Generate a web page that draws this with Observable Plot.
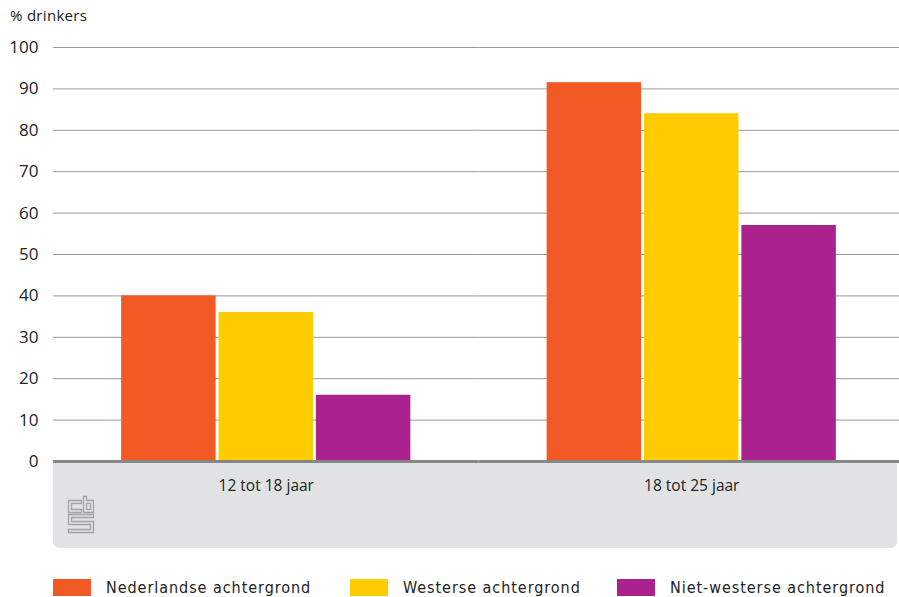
<!DOCTYPE html>
<html>
<head>
<meta charset="utf-8">
<script src="https://cdn.jsdelivr.net/npm/d3@7"></script>
<script src="https://cdn.jsdelivr.net/npm/@observablehq/plot@0.6"></script>
<style>
  body { margin: 0; background: #fff; overflow: hidden; }
  #wrap { position: relative; width: 899px; height: 597px; overflow: hidden; font-family: "Open Sans", sans-serif; color: #222; }
  #title { position: absolute; left: 10px; top: 5px; font-size: 15px; letter-spacing: 0.3px; }
  #chart { position: absolute; left: 0; top: 0; }
  #legend { position: absolute; left: 0; top: 578px; width: 899px; height: 19px; }
  .item { position: absolute; top: 0; display: flex; align-items: center; font-size: 16px; letter-spacing: 0.95px; font-family: "DejaVu Sans Condensed", "Open Sans", sans-serif; }
  .sw { width: 38px; height: 17px; margin-right: 15px; }
</style>
</head>
<body>
<div id="wrap">
  <div id="chart"></div>
  <div id="title">% drinkers</div>
  <div id="legend"></div>
</div>
<script>
const groups = ["12 tot 18 jaar", "18 tot 25 jaar"];
const series = ["Nederlandse achtergrond", "Westerse achtergrond", "Niet-westerse achtergrond"];
const colors = ["#f15a24", "#ffcc00", "#ab218e"];
const nederlandse = [40, 91.5];
const westerse = [36, 84];
const nietWesterse = [16, 57];
const yTicks = [0, 10, 20, 30, 40, 50, 60, 70, 80, 90, 100];
const legendX = [53, 350, 617];

const valuesBySeries = [nederlandse, westerse, nietWesterse];
const data = [];
groups.forEach((g, gi) => series.forEach((s, si) => data.push({group: g, series: s, value: valuesBySeries[si][gi]})));

const chart = Plot.plot({
  width: 899,
  height: 560,
  marginTop: 47,
  marginBottom: 99,
  marginLeft: 53,
  marginRight: -5,
  style: {fontFamily: "Open Sans, sans-serif", fontSize: "15px", color: "#222", background: "transparent"},
  fx: {domain: groups, padding: 0, label: null, round: false},
  x: {domain: series, paddingInner: 0.03, paddingOuter: 0.70, round: false, axis: null},
  y: {domain: [0, 100], label: null},
  color: {domain: series, range: colors},
  marks: [
    Plot.gridY(yTicks, {stroke: "#999", strokeOpacity: 1, strokeWidth: 1}),
    Plot.barY(data, {fx: "group", x: "series", y: "value", fill: "series"}),
    Plot.ruleY([0], {stroke: "#878787", strokeWidth: 3}),
    Plot.axisY(yTicks, {tickSize: 0, tickPadding: 15, fontSize: 17, label: null}),
    Plot.axisFx({anchor: "bottom", tickSize: 0, tickPadding: 18, fontSize: 15.5, label: null})
  ]
});

// grey panel under the baseline (decoration)
const svg = d3.select(chart);
const y0 = chart.scale("y").apply(0);
const px = 53, pw = 897 - 53, ptop = y0 + 1.5, pbot = 548, r = 7;
svg.insert("path", ":first-child")
  .attr("d", `M${px},${ptop} H${px + pw} V${pbot - r} Q${px + pw},${pbot} ${px + pw - r},${pbot} H${px + r} Q${px},${pbot} ${px},${pbot - r} Z`)
  .attr("fill", "#e1e2e4");

// CBS logo (decoration)
const logo = svg.append("g").attr("fill", "none").attr("stroke", "#a3a3a3").attr("stroke-width", 1.3);
logo.append("path").attr("d", "M81.5,500.5 H68.5 V512.5 H81.5 V509.5 H71.5 V503.5 H81.5 Z");
logo.append("path").attr("d", "M83.5,496.5 H86.5 V500.5 H93.5 V512.5 H83.5 Z");
logo.append("rect").attr("x", 86.5).attr("y", 503.5).attr("width", 4).attr("height", 6);
logo.append("path").attr("d", "M68.5,514.5 H93.5 V517.5 H71.5 V521.5 H93.5 V532.5 H68.5 V529.5 H90.5 V524.5 H68.5 Z");

document.getElementById("chart").appendChild(chart);

// legend
const legend = document.getElementById("legend");
series.forEach((s, i) => {
  const it = document.createElement("div");
  it.className = "item";
  it.style.left = legendX[i] + "px";
  const sw = document.createElement("div");
  sw.className = "sw";
  sw.style.background = colors[i];
  const tx = document.createElement("span");
  tx.textContent = s;
  it.appendChild(sw);
  it.appendChild(tx);
  legend.appendChild(it);
});
</script>
</body>
</html>
